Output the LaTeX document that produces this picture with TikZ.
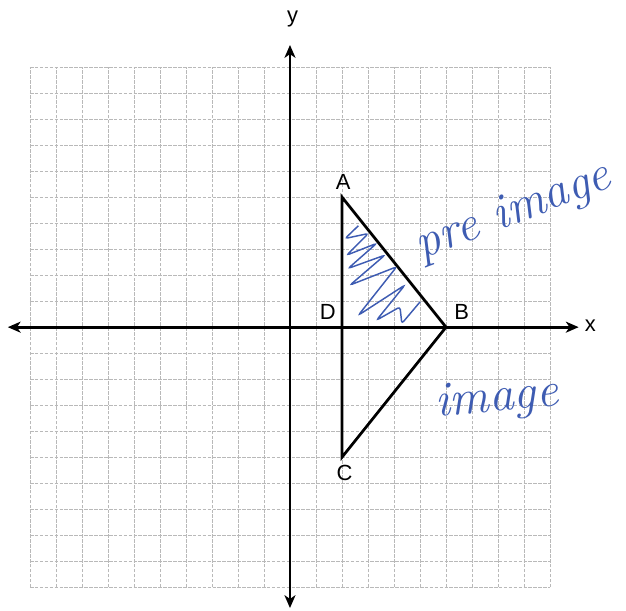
\documentclass[tikz,border=0pt]{standalone}
\usepackage{fontspec}
\setmainfont{Liberation Sans}
\newfontfamily\handfont{Latin Modern Roman}
\usepackage{xcolor}
\usetikzlibrary{arrows.meta, positioning, calc}

\definecolor{penblue}{RGB}{62,92,178}

\begin{document}
\begin{tikzpicture}[x=0.5cm, y=0.5cm]
\useasboundingbox (-11.15,-10.88) rectangle (12.92,12.58);

% Grid paper
\draw[gray!55, line width=0.35pt, dash pattern=on 2pt off 0.7pt, step=0.5cm] (-10,-10) grid (10,10);

% Axes
\coordinate (xl) at (-10.85,0);
\coordinate (xr) at (11.1,0);
\coordinate (yb) at (0,-10.8);
\coordinate (yt) at (0,10.85);
\draw[line width=1.5pt, {Stealth[length=7pt, width=6pt, inset=2pt]}-{Stealth[length=7pt, width=6pt, inset=2pt]}] (xl) -- (xr);
\draw[line width=1.5pt, {Stealth[length=7pt, width=6pt, inset=2pt]}-{Stealth[length=7pt, width=6pt, inset=2pt]}] (yb) -- (yt);
\node[font=\large] (xlab) at (11.55,0.05) {x};
\node[font=\large] (ylab) at (0.1,11.85) {y};

% Triangle points
\coordinate (A) at (2,5);
\coordinate (B) at (6,0);
\coordinate (C) at (2,-5);
\coordinate (D) at (2,0);
\draw[line width=1.5pt, line join=miter] (A) -- (B) -- (C) -- cycle;

\foreach \p/\x/\y in {A/2.05/5.6, B/6.6/0.6, C/2.1/-5.6, D/1.45/0.6} {
   \node[font=\large] (lbl\p) at (\x,\y) {\p};
}

% Hand shading of the pre image
\draw[penblue, line width=0.8pt, rounded corners=1.5pt]
   (2.63,3.9) -- (2.12,3.41) -- (3.01,3.6) -- (2.18,2.77) -- (3.33,3.22)
   -- (2.24,2.26) -- (3.65,2.77) -- (2.31,1.62) -- (4.1,2.32) -- (2.63,0.46)
   -- (4.42,1.62) -- (3.33,0.27) -- (4.23,0.78) -- (4.3,0.14) -- (5.0,0.97);

% Hand written notes
\node[penblue, font=\handfont\itshape\fontsize{27}{27}\selectfont, rotate=21] (pre) at (8.6,4.4) {pre image};
\node[penblue, font=\handfont\itshape\fontsize{27}{27}\selectfont, rotate=5] (img) at (7.95,-2.8) {image};
\end{tikzpicture}
\end{document}
